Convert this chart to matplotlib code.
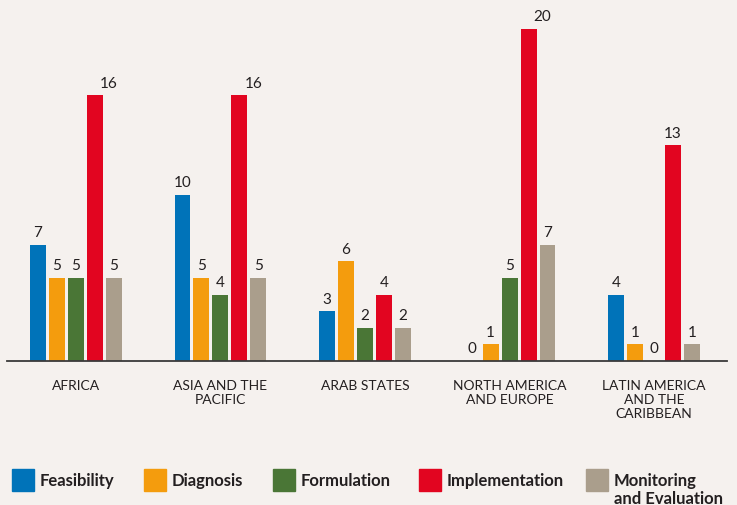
import numpy as np
import matplotlib
matplotlib.use("Agg")
import matplotlib.pyplot as plt
from matplotlib.patches import Rectangle

# data
regions = ["AFRICA", "ASIA AND THE\nPACIFIC", "ARAB STATES",
           "NORTH AMERICA\nAND EUROPE", "LATIN AMERICA\nAND THE\nCARIBBEAN"]
stages = ["Feasibility", "Diagnosis", "Formulation", "Implementation",
          "Monitoring\nand Evaluation"]
feasibility = [7, 10, 3, 0, 4]
diagnosis = [5, 5, 6, 1, 1]
formulation = [5, 4, 2, 5, 0]
implementation = [16, 16, 4, 20, 13]
monitoring = [5, 5, 2, 7, 1]

colors = ["#0073b9", "#f49c0d", "#4a7636", "#e20520", "#aa9e8c"]
bg = "#f5f1ee"
txt = "#231f20"
# the source nudges some of the tall red labels to the right (pixels)
red_label_dx = [14, 14, 0, 14, 0]

font = ["Lato", "DejaVu Sans"]

fig = plt.figure(figsize=(7.37, 5.06), dpi=100, facecolor=bg)
ax = fig.add_axes([7 / 737, 1 - 362 / 506, 720 / 737, 352 / 506])
ax.set_facecolor(bg)

series = [feasibility, diagnosis, formulation, implementation, monitoring]
x = np.arange(len(regions))
step = 19 / 145
width = 16 / 145

for i, (vals, c) in enumerate(zip(series, colors)):
    pos = x + (i - 2) * step
    ax.bar(pos, vals, width=width, color=c, zorder=2)
    for j, (p, v) in enumerate(zip(pos, vals)):
        dx = red_label_dx[j] * 72 / 100 if i == 3 else 0
        ax.annotate(str(v), (p, v), xytext=(dx, 4), textcoords="offset points",
                    ha="center", va="bottom", fontsize=11, color=txt,
                    family=font)

ax.set_xlim(-69 / 145, 4 + 73 / 145)
ax.set_ylim(0, 352 / 16.6)
ax.set_yticks([])
ax.set_xticks(x)
ax.set_xticklabels(regions, fontsize=10, color=txt, family=font,
                   linespacing=1.2, va="top")
ax.tick_params(axis="x", length=0, pad=13)
for s in ["top", "right", "left"]:
    ax.spines[s].set_visible(False)
ax.spines["bottom"].set_color("#3a3a3a")
ax.spines["bottom"].set_linewidth(1.3)
ax.spines["bottom"].set_zorder(3)

# legend drawn by hand along the bottom
sq_x = [12, 144, 273, 419, 586]
for sx, c, lab in zip(sq_x, colors, stages):
    fig.add_artist(Rectangle((sx / 737, 1 - 492 / 506), 22 / 737, 22 / 506,
                             transform=fig.transFigure, color=c))
    fig.text((sx + 28) / 737, 1 - 473 / 506, lab, ha="left", va="top",
             fontsize=12, fontweight="bold", color=txt, family=font,
             linespacing=1.15)

fig.savefig("out.png", dpi=100, facecolor=bg)
